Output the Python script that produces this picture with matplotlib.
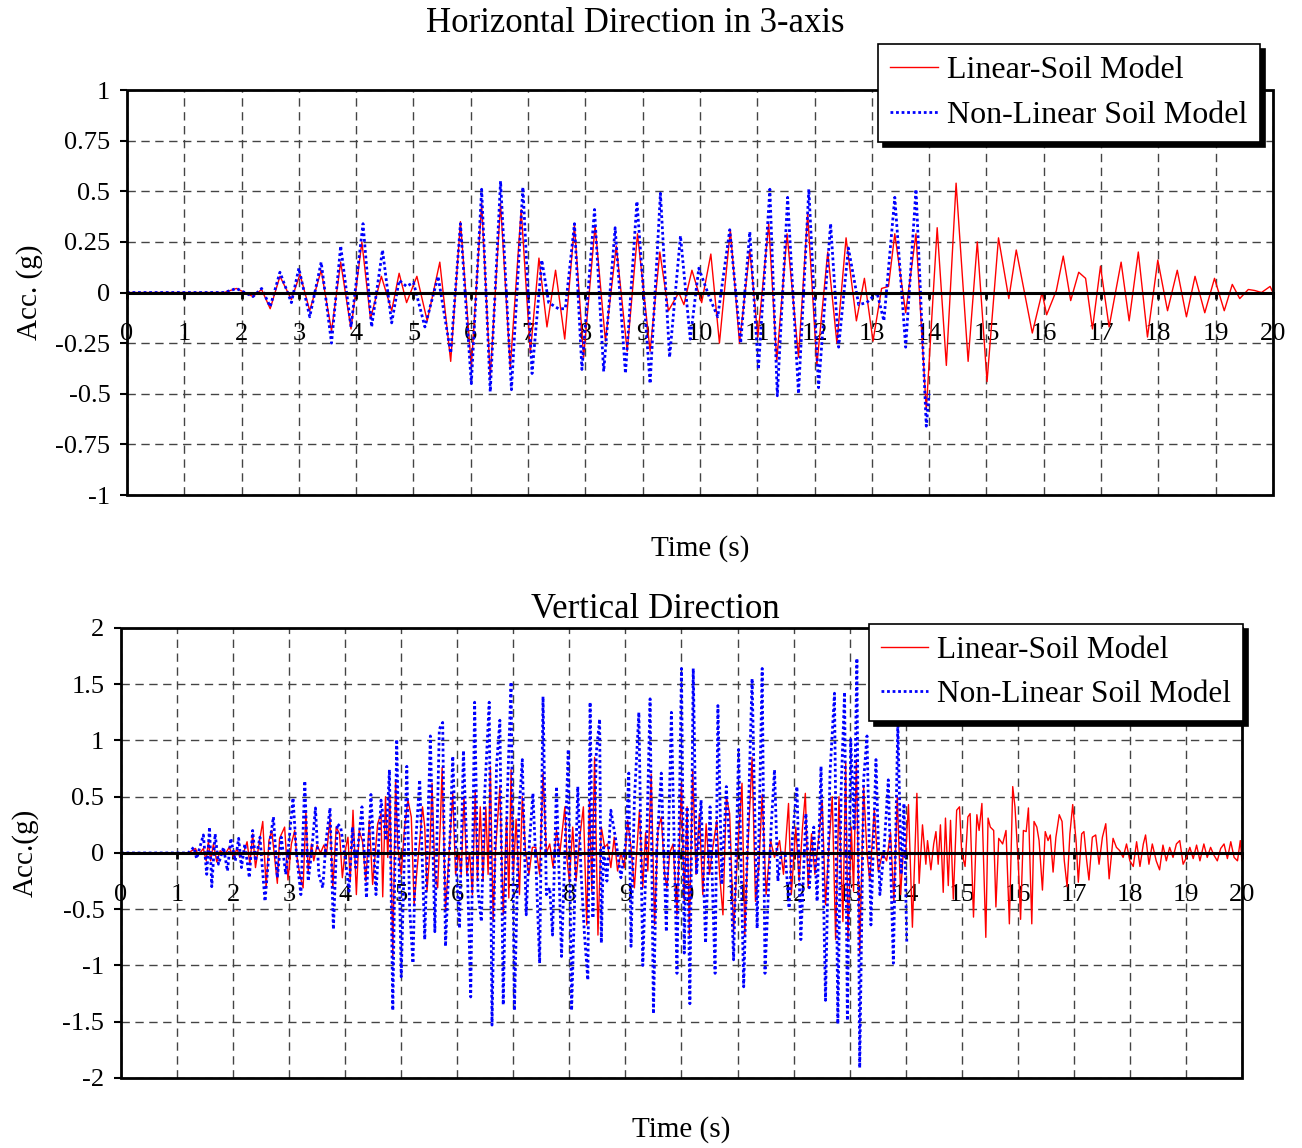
import matplotlib.pyplot as plt
import numpy as np
from matplotlib.patches import Rectangle

plt.rcParams['font.family'] = ['Liberation Serif', 'DejaVu Serif']
plt.rcParams['axes.unicode_minus'] = False

# acceleration records, (time s, acc g)
horiz_linear = [
    (0, 0), (1.7, 0), (1.91, 0.02), (2.2, -0.02), (2.35, 0.015), (2.5, -0.08),
    (2.67, 0.08), (2.87, -0.035), (3.02, 0.09), (3.19, -0.09), (3.39, 0.11),
    (3.57, -0.19), (3.73, 0.15), (3.91, -0.18), (4.1, 0.25), (4.25, -0.13),
    (4.44, 0.08), (4.62, -0.09), (4.75, 0.095), (4.88, -0.05), (5.06, 0.08),
    (5.24, -0.14), (5.46, 0.15), (5.65, -0.34), (5.82, 0.35), (6.01, -0.37),
    (6.19, 0.44), (6.34, -0.42), (6.52, 0.44), (6.69, -0.37), (6.88, 0.41),
    (7.04, -0.30), (7.19, 0.17), (7.33, -0.17), (7.48, 0.11), (7.64, -0.23),
    (7.81, 0.33), (7.97, -0.32), (8.17, 0.33), (8.35, -0.24), (8.54, 0.23),
    (8.73, -0.29), (8.91, 0.29), (9.13, -0.29), (9.30, 0.20), (9.45, -0.09),
    (9.63, 0.0), (9.72, -0.06), (9.86, 0.11), (10.03, -0.05), (10.19, 0.19),
    (10.34, -0.25), (10.53, 0.31), (10.69, -0.25), (10.87, 0.21), (11.01, -0.22),
    (11.20, 0.34), (11.34, -0.34), (11.52, 0.29), (11.72, -0.32), (11.88, 0.39),
    (12.04, -0.36), (12.23, 0.20), (12.39, -0.25), (12.55, 0.27), (12.73, -0.14),
    (12.87, 0.07), (13.02, -0.24), (13.17, 0.02), (13.29, 0.03), (13.40, 0.29),
    (13.59, -0.10), (13.77, 0.29), (13.95, -0.58), (14.14, 0.32), (14.30, -0.36),
    (14.47, 0.54), (14.68, -0.34), (14.84, 0.25), (15.01, -0.44), (15.21, 0.27),
    (15.39, -0.03), (15.52, 0.21), (15.80, -0.20), (15.97, 0.0), (16.05, -0.11),
    (16.22, 0.01), (16.34, 0.18), (16.47, -0.04), (16.61, 0.10), (16.73, 0.07),
    (16.85, -0.18), (16.99, 0.13), (17.14, -0.17), (17.35, 0.15), (17.49, -0.14),
    (17.65, 0.20), (17.81, -0.22), (17.99, 0.16), (18.16, -0.09), (18.33, 0.11),
    (18.49, -0.12), (18.64, 0.08), (18.81, -0.10), (18.98, 0.07), (19.15, -0.09),
    (19.29, 0.04), (19.42, -0.03), (19.57, 0.015), (19.68, 0.01), (19.80, 0.0),
    (19.95, 0.03), (20.0, 0.0),
]
horiz_nonlinear = [
    (0, 0), (1.7, 0), (1.91, 0.02), (2.2, -0.02), (2.35, 0.02), (2.5, -0.07),
    (2.67, 0.10), (2.87, -0.05), (3.0, 0.12), (3.19, -0.12), (3.39, 0.15),
    (3.57, -0.25), (3.73, 0.23), (3.91, -0.17), (4.12, 0.34), (4.27, -0.17),
    (4.46, 0.21), (4.62, -0.15), (4.75, 0.06), (4.88, 0.03), (5.0, 0.05),
    (5.2, -0.17), (5.43, 0.08), (5.65, -0.30), (5.82, 0.34), (6.01, -0.45),
    (6.19, 0.51), (6.34, -0.49), (6.52, 0.55), (6.71, -0.48), (6.91, 0.52),
    (7.07, -0.40), (7.24, 0.16), (7.36, -0.05), (7.53, -0.08), (7.65, -0.08),
    (7.81, 0.34), (7.94, -0.38), (8.16, 0.41), (8.32, -0.39), (8.52, 0.32),
    (8.70, -0.40), (8.90, 0.45), (9.13, -0.45), (9.31, 0.49), (9.47, -0.32),
    (9.66, 0.28), (9.83, -0.23), (9.98, 0.12), (10.16, -0.02), (10.31, -0.12),
    (10.52, 0.31), (10.71, -0.25), (10.87, 0.30), (11.02, -0.38), (11.22, 0.51),
    (11.35, -0.51), (11.53, 0.47), (11.72, -0.50), (11.90, 0.51), (12.07, -0.47),
    (12.28, 0.34), (12.42, -0.27), (12.59, 0.22), (12.77, -0.06), (12.91, -0.05),
    (13.09, 0.0), (13.21, -0.14), (13.40, 0.47), (13.59, -0.27), (13.77, 0.51),
    (13.95, -0.66), (14.0, -0.50),
]
vert_linear = [
    (0, 0), (1.2, 0), (1.33, 0.04), (1.38, -0.02), (1.47, 0.04), (1.52, -0.07),
    (1.56, 0.10), (1.60, -0.07), (1.65, 0.08), (1.71, -0.08), (1.77, 0.02),
    (1.86, -0.01), (1.93, 0.05), (2.01, -0.04), (2.07, 0.04), (2.12, -0.04),
    (2.20, 0.02), (2.25, 0.10), (2.30, -0.10), (2.35, 0.17), (2.40, -0.13),
    (2.46, 0.07), (2.53, 0.28), (2.59, -0.31), (2.64, 0.11), (2.69, 0.20),
    (2.79, -0.27), (2.83, 0.13), (2.92, 0.23), (2.98, -0.24), (3.04, 0.08),
    (3.10, 0.20), (3.13, 0.0), (3.19, -0.19), (3.25, -0.31), (3.30, 0.37),
    (3.34, -0.16), (3.40, 0.08), (3.44, -0.07), (3.50, 0.07), (3.56, 0.0),
    (3.62, 0.07), (3.67, 0.0), (3.73, 0.31), (3.78, -0.31), (3.84, 0.23),
    (3.90, 0.17), (3.95, -0.22), (4.0, 0.02), (4.05, 0.14), (4.09, -0.25),
    (4.14, 0.38), (4.20, -0.37), (4.25, 0.20), (4.31, 0.10), (4.37, -0.25),
    (4.43, 0.29), (4.49, -0.28), (4.58, 0.26), (4.64, 0.35), (4.67, -0.39),
    (4.72, 0.50), (4.76, -0.04), (4.80, 0.50), (4.85, -0.92), (4.90, 0.65),
    (4.94, 0.05), (5.0, -0.19), (5.06, 0.23), (5.12, 0.47), (5.18, 0.32),
    (5.23, -0.46), (5.28, -0.16), (5.33, 0.11), (5.38, 0.41), (5.42, 0.23),
    (5.46, -0.34), (5.51, 0.0), (5.55, 0.62), (5.60, -0.19), (5.65, -0.31),
    (5.70, 0.29), (5.73, 0.76), (5.79, -0.52), (5.86, 0.05), (5.92, 0.53),
    (5.97, -0.19), (6.03, 0.0), (6.07, -0.19), (6.12, 0.50), (6.17, -0.19),
    (6.22, 0.0), (6.27, -0.37), (6.32, 0.56), (6.36, -0.25), (6.41, 0.41),
    (6.46, -0.25), (6.51, 0.41), (6.55, -0.19), (6.59, 0.77), (6.64, -0.61),
    (6.68, 0.0), (6.76, 0.59), (6.82, -0.55), (6.88, 0.32), (6.92, -0.40),
    (6.96, 0.74), (7.0, -0.19), (7.05, 0.30), (7.11, -0.37), (7.16, 0.50),
    (7.22, 0.0), (7.28, -0.19), (7.34, 0.05), (7.40, 0.05), (7.47, -0.19),
    (7.53, 0.71), (7.59, 0.0), (7.65, 0.08), (7.71, -0.13), (7.77, 0.20),
    (7.83, 0.0), (7.92, 0.41), (7.96, -0.07), (8.0, -0.25), (8.06, 0.23),
    (8.12, -0.25), (8.18, 0.11), (8.25, 0.41), (8.31, -0.64), (8.36, 0.47),
    (8.40, -0.34), (8.45, 0.85), (8.51, -0.73), (8.57, 0.23), (8.63, 0.05),
    (8.68, 0.08), (8.74, -0.13), (8.80, 0.14), (8.86, -0.16), (8.92, 0.0),
    (8.98, -0.13), (9.04, 0.29), (9.10, 0.05), (9.16, -0.31), (9.25, 0.38),
    (9.31, -0.31), (9.36, 0.18), (9.40, -0.16), (9.46, 0.70), (9.52, -0.64),
    (9.58, 0.20), (9.64, 0.32), (9.70, -0.19), (9.74, -0.31), (9.79, 0.0),
    (9.85, 0.08), (9.92, -0.55), (10.0, 0.62), (10.05, -0.43), (10.10, 0.41),
    (10.14, -0.73), (10.20, 0.74), (10.26, -0.19), (10.32, 0.35), (10.38, -0.37),
    (10.44, 0.26), (10.50, -0.19), (10.56, 0.05), (10.63, 0.29), (10.68, -0.19),
    (10.74, -0.55), (10.80, 0.50), (10.86, 0.35), (10.93, -0.70), (11.0, 0.0),
    (11.08, 0.62), (11.13, -0.73), (11.18, 0.0), (11.26, 0.85), (11.32, -0.43),
    (11.38, -0.13), (11.44, 0.52), (11.51, -0.37), (11.59, 0.11), (11.66, -0.04),
    (11.75, 0.11), (11.82, -0.19), (11.91, 0.44), (11.96, -0.37), (12.04, 0.23),
    (12.10, -0.25), (12.16, 0.23), (12.21, 0.53), (12.26, -0.31), (12.32, 0.17),
    (12.38, -0.19), (12.45, 0.14), (12.51, 0.47), (12.57, -0.46), (12.63, 0.05),
    (12.69, 0.50), (12.75, -0.77), (12.81, 0.50), (12.88, -0.61), (12.93, 0.80),
    (12.97, -0.77), (13.03, 0.23), (13.07, -0.34), (13.12, 0.83), (13.18, -0.89),
    (13.25, 0.59), (13.31, 0.0), (13.36, -0.25), (13.44, 0.39), (13.51, -0.16),
    (13.59, 0.0), (13.66, -0.07), (13.73, 0.18), (13.79, -0.43), (13.85, 0.50),
    (13.91, -0.37), (13.95, -0.04), (14.0, 0.0), (14.05, 0.43), (14.12, -0.66),
    (14.20, 0.53), (14.24, -0.27), (14.30, 0.25), (14.36, -0.10), (14.39, 0.11),
    (14.45, -0.15), (14.50, 0.08), (14.54, 0.19), (14.58, -0.10), (14.62, 0.25),
    (14.67, -0.35), (14.71, 0.31), (14.76, -0.29), (14.80, 0.29), (14.85, -0.41),
    (14.91, 0.38), (14.96, 0.41), (15.0, 0.0), (15.06, -0.12), (15.11, 0.32),
    (15.15, 0.35), (15.21, -0.57), (15.27, 0.34), (15.31, 0.20), (15.36, 0.44),
    (15.39, -0.07), (15.43, -0.75), (15.47, 0.31), (15.51, 0.23), (15.57, 0.20),
    (15.61, -0.48), (15.66, 0.13), (15.73, 0.08), (15.79, 0.20), (15.85, -0.63),
    (15.91, 0.59), (15.95, 0.41), (16.01, -0.10), (16.05, -0.59), (16.10, 0.20),
    (16.15, 0.19), (16.19, 0.40), (16.25, -0.63), (16.29, 0.28), (16.34, 0.23),
    (16.38, 0.11), (16.44, -0.33), (16.49, 0.19), (16.54, 0.11), (16.58, 0.16),
    (16.63, -0.17), (16.68, 0.14), (16.74, 0.34), (16.79, 0.28), (16.83, -0.07),
    (16.88, -0.30), (16.93, 0.17), (16.98, 0.43), (17.04, 0.11), (17.08, -0.26),
    (17.14, 0.17), (17.18, 0.19), (17.23, -0.07), (17.27, -0.24), (17.33, 0.14),
    (17.39, 0.16), (17.45, -0.10), (17.51, 0.14), (17.57, 0.26), (17.63, -0.23),
    (17.70, 0.13), (17.76, 0.05), (17.82, 0.02), (17.88, -0.04), (17.94, 0.08),
    (18.0, -0.07), (18.06, -0.12), (18.12, 0.10), (18.18, -0.12), (18.24, 0.08),
    (18.28, 0.16), (18.34, -0.10), (18.40, 0.08), (18.47, -0.07), (18.53, -0.15),
    (18.59, 0.07), (18.65, -0.07), (18.71, 0.05), (18.77, -0.04), (18.83, 0.08),
    (18.89, 0.11), (18.95, -0.10), (19.01, -0.04), (19.07, 0.05), (19.13, -0.05),
    (19.19, 0.07), (19.25, -0.07), (19.32, 0.08), (19.38, -0.04), (19.44, 0.05),
    (19.50, -0.02), (19.56, -0.07), (19.62, 0.04), (19.68, 0.08), (19.74, -0.05),
    (19.80, 0.10), (19.86, -0.04), (19.92, -0.07), (19.97, 0.11), (20.0, -0.07),
]
vert_nonlinear = [
    (0, 0), (1.2, 0), (1.30, 0.05), (1.35, -0.05), (1.47, 0.16), (1.53, -0.19),
    (1.58, 0.23), (1.62, -0.30), (1.68, 0.17), (1.74, -0.10), (1.83, 0.05),
    (1.90, -0.16), (1.96, 0.13), (2.04, -0.07), (2.10, 0.13), (2.15, -0.13),
    (2.21, 0.08), (2.29, -0.22), (2.35, 0.20), (2.40, -0.07), (2.48, 0.14),
    (2.57, -0.43), (2.66, 0.11), (2.72, 0.32), (2.79, -0.22), (2.86, 0.14),
    (2.94, -0.19), (3.01, 0.17), (3.07, 0.49), (3.13, 0.0), (3.21, -0.37),
    (3.28, 0.64), (3.34, -0.25), (3.40, 0.0), (3.47, 0.40), (3.53, -0.19),
    (3.60, -0.31), (3.66, 0.11), (3.73, 0.40), (3.79, -0.68), (3.86, 0.26),
    (3.92, 0.23), (4.0, -0.04), (4.07, -0.34), (4.13, 0.23), (4.19, -0.13),
    (4.30, 0.41), (4.38, -0.40), (4.46, 0.52), (4.55, -0.37), (4.64, 0.47),
    (4.73, 0.11), (4.79, 0.74), (4.85, -1.40), (4.92, 1.01), (5.0, -1.10),
    (5.06, 0.05), (5.10, 0.77), (5.15, -0.49), (5.21, -0.98), (5.26, 0.11),
    (5.33, 0.65), (5.42, -0.77), (5.52, 1.04), (5.60, -0.70), (5.68, 1.10),
    (5.74, 1.16), (5.79, -0.83), (5.86, 0.0), (5.92, 0.86), (5.99, -0.19),
    (6.04, -0.67), (6.11, 0.91), (6.17, 0.05), (6.24, -1.28), (6.31, 1.34),
    (6.37, -0.34), (6.43, -0.61), (6.49, 0.53), (6.57, 1.34), (6.62, -1.53),
    (6.70, 0.77), (6.76, 1.18), (6.82, -1.35), (6.89, 0.47), (6.96, 1.52),
    (7.02, -1.40), (7.10, 0.35), (7.16, 0.83), (7.23, -0.55), (7.29, 0.11),
    (7.35, 0.53), (7.41, -0.19), (7.47, -0.98), (7.53, 1.39), (7.59, -0.37),
    (7.65, -0.31), (7.70, -0.73), (7.77, 0.59), (7.86, -0.92), (7.98, 0.92),
    (8.04, -1.40), (8.15, 0.59), (8.21, -0.19), (8.27, -0.73), (8.33, -1.13),
    (8.37, 1.34), (8.42, -0.58), (8.48, 0.89), (8.54, 1.19), (8.57, -0.80),
    (8.61, 0.05), (8.67, -0.25), (8.74, 0.38), (8.83, 0.11), (8.92, -0.22),
    (9.01, 0.11), (9.06, 0.71), (9.10, -0.83), (9.16, 0.47), (9.24, 1.25),
    (9.31, -1.00), (9.38, 0.11), (9.44, 1.37), (9.50, -1.43), (9.56, 0.05),
    (9.64, 0.71), (9.73, -0.70), (9.82, 1.25), (9.92, -1.07), (10.0, 1.64),
    (10.05, -0.89), (10.10, 0.41), (10.15, -1.34), (10.21, 1.64), (10.27, -0.19),
    (10.35, 0.47), (10.43, -0.80), (10.51, 0.41), (10.60, -1.07), (10.65, 1.31),
    (10.72, -0.28), (10.80, 0.59), (10.86, 0.05), (10.93, -0.95), (11.02, 0.92),
    (11.11, -1.19), (11.18, 0.11), (11.26, 1.55), (11.35, -0.67), (11.44, 1.64),
    (11.49, -1.07), (11.60, 0.23), (11.66, 0.74), (11.72, -0.25), (11.78, 0.0),
    (11.85, 0.0), (11.92, -0.49), (11.98, 0.14), (12.06, 0.59), (12.13, -0.77),
    (12.22, 0.35), (12.28, -0.31), (12.36, 0.23), (12.42, -0.43), (12.49, 0.77),
    (12.57, -1.31), (12.65, 0.71), (12.73, 1.42), (12.79, -1.52), (12.85, 0.59),
    (12.91, 1.43), (12.96, -1.49), (13.02, 1.01), (13.08, 0.20), (13.13, 1.73),
    (13.18, -1.91), (13.25, 0.65), (13.31, 1.04), (13.38, -0.64), (13.47, 0.83),
    (13.54, -0.37), (13.61, 0.0), (13.69, 0.65), (13.78, -0.98), (13.86, 1.16),
    (13.92, -0.19), (13.97, 0.44), (14.02, -0.80),
]

x_ticks = list(range(0, 21))
horiz_yticks = [-1, -0.75, -0.5, -0.25, 0, 0.25, 0.5, 0.75, 1]
vert_yticks = [-2, -1.5, -1, -0.5, 0, 0.5, 1, 1.5, 2]

fig = plt.figure(figsize=(13.02, 11.48), dpi=100)
ax1 = fig.add_axes([0.0975, 0.5688, 0.8802, 0.3528])
ax2 = fig.add_axes([0.0929, 0.0610, 0.8610, 0.3920])


def style(ax, yticks, ylabel, xlabel_y):
    ax.set_xlim(0, 20)
    ax.set_ylim(yticks[0], yticks[-1])
    ax.set_xticks(x_ticks)
    ax.set_yticks(yticks)
    ax.set_yticklabels([f'{v:g}' for v in yticks])
    ax.grid(True, color='#444444', linestyle=(0, (6, 4)), linewidth=1.0)
    for s in ['top', 'left', 'right']:
        ax.spines[s].set_visible(False)
    ax.spines['bottom'].set_position(('data', 0))
    ax.spines['bottom'].set_linewidth(2.2)
    ax.spines['bottom'].set_zorder(5)
    ax.add_patch(Rectangle((0, 0), 1, 1, transform=ax.transAxes, fill=False,
                           edgecolor='black', linewidth=2.0, clip_on=False, zorder=6))
    ax.tick_params(axis='x', direction='out', length=4, width=2, pad=18, labelsize=19)
    ax.tick_params(axis='y', direction='out', length=5, width=1.5, pad=7, labelsize=19)
    ax.text(-0.085, 0.5, ylabel, transform=ax.transAxes, rotation=90,
            ha='center', va='center', fontsize=21)
    ax.text(0.5, xlabel_y, 'Time (s)', transform=ax.transAxes,
            ha='center', va='center', fontsize=21)


def draw(ax, lin, non):
    lin = np.array(lin)
    non = np.array(non)
    ax.plot(lin[:, 0], lin[:, 1], color='#ff0000', linewidth=1.0,
            label='Linear-Soil Model', zorder=3)
    ax.plot(non[:, 0], non[:, 1], color='#0000ff', linewidth=2.0,
            linestyle=(0, (1, 1)), label='Non-Linear Soil Model', zorder=3)


draw(ax1, horiz_linear, horiz_nonlinear)
draw(ax2, vert_linear, vert_nonlinear)
style(ax1, horiz_yticks, 'Acc. (g)', -0.131)
style(ax2, vert_yticks, 'Acc.(g)', -0.1156)

shadow = {'ox': 3.5, 'oy': -3.5, 'facecolor': 'black', 'edgecolor': 'black', 'alpha': 1}
for ax, anchor, fs in [(ax1, (0.9677, 0.9617), 23), (ax2, (0.9547, 0.4564), 22.5)]:
    leg = ax.legend(loc='upper right', bbox_to_anchor=anchor,
                    bbox_transform=fig.transFigure, fontsize=fs, fancybox=False,
                    shadow=shadow, framealpha=1, edgecolor='black', borderpad=0.38,
                    labelspacing=0.48, handlelength=1.5, handletextpad=0.3,
                    borderaxespad=0)
    leg.get_frame().set_linewidth(1.2)
    leg.set_zorder(10)

fig.text(635 / 1302, 1 - 23 / 1148, 'Horizontal Direction in 3-axis',
         ha='center', va='center', fontsize=25)
fig.text(655 / 1302, 1 - 610 / 1148, 'Vertical Direction',
         ha='center', va='center', fontsize=25)

fig.savefig('out.png', dpi=100)
